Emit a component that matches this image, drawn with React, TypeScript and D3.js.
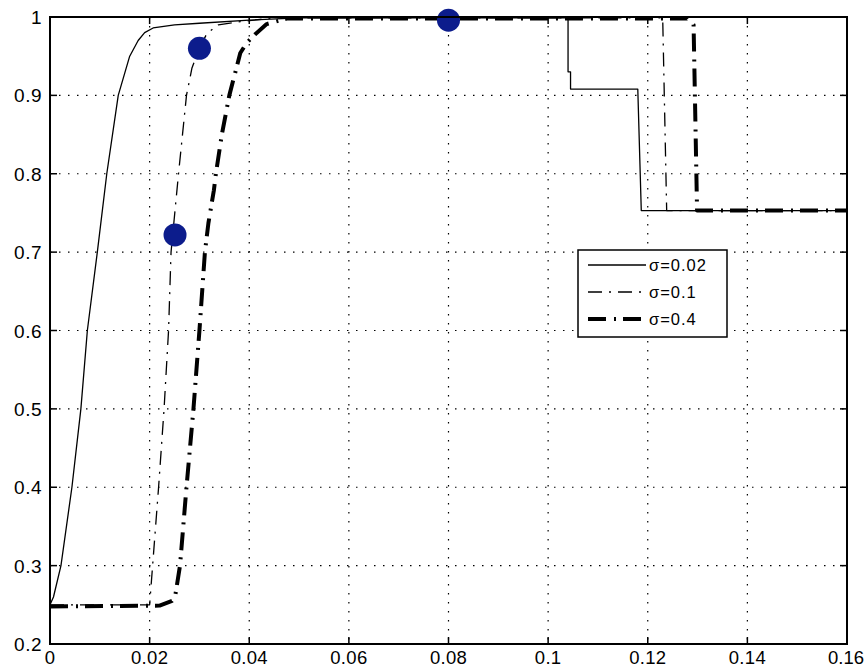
import React from "react";
import * as d3 from "d3";

const xTicks = [0, 0.02, 0.04, 0.06, 0.08, 0.1, 0.12, 0.14, 0.16];
const xTickLabels = ["0", "0.02", "0.04", "0.06", "0.08", "0.1", "0.12", "0.14", "0.16"];
const yTicks = [0.2, 0.3, 0.4, 0.5, 0.6, 0.7, 0.8, 0.9, 1];
const yTickLabels = ["0.2", "0.3", "0.4", "0.5", "0.6", "0.7", "0.8", "0.9", "1"];

const sigma002: [number, number][] = [
  [0, 0.25], [0.0007, 0.26], [0.0022, 0.3], [0.0044, 0.4], [0.0062, 0.5], [0.0075, 0.6],
  [0.0095, 0.7], [0.0114, 0.8], [0.0137, 0.9], [0.016, 0.95], [0.0177, 0.97], [0.019, 0.98],
  [0.0207, 0.986], [0.025, 0.99], [0.03, 0.992], [0.04, 0.996], [0.05, 0.999], [0.104, 0.999],
  [0.104, 0.93], [0.1045, 0.93], [0.1045, 0.908], [0.118, 0.908], [0.1187, 0.753], [0.16, 0.753],
];
const sigma01: [number, number][] = [
  [0, 0.25], [0.02, 0.25], [0.0206, 0.3], [0.0218, 0.4], [0.0229, 0.5], [0.0238, 0.6],
  [0.0243, 0.7], [0.0258, 0.8], [0.0274, 0.9], [0.0285, 0.935], [0.03, 0.96], [0.0315, 0.979],
  [0.0338, 0.99], [0.0382, 0.994], [0.045, 0.999], [0.123, 0.999], [0.1238, 0.753], [0.16, 0.753],
];
const sigma04: [number, number][] = [
  [0, 0.248], [0.022, 0.249], [0.0245, 0.255], [0.0251, 0.26], [0.0261, 0.3], [0.0274, 0.4],
  [0.0288, 0.5], [0.03, 0.6], [0.0311, 0.7], [0.0318, 0.737], [0.0329, 0.779], [0.0333, 0.8],
  [0.0345, 0.85], [0.036, 0.9], [0.0382, 0.954], [0.0395, 0.967], [0.0412, 0.978], [0.0435, 0.991],
  [0.0475, 0.998], [0.128, 0.998], [0.1292, 0.99], [0.1299, 0.753], [0.16, 0.753],
];
const markers: [number, number][] = [[0.0251, 0.722], [0.03, 0.96], [0.08, 0.996]];

const seriesNames = ["σ=0.02", "σ=0.1", "σ=0.4"];

const W = 866, H = 671;
const L = 50, R = 847, T = 17, B = 644;

export default function App() {
  const x = d3.scaleLinear().domain([0, 0.16]).range([L, R]);
  const y = d3.scaleLinear().domain([0.2, 1]).range([B, T]);
  const line = d3.line<[number, number]>().x(d => x(d[0])).y(d => y(d[1]));
  const font = "'Liberation Sans', Arial, sans-serif";
  const styles = [
    { stroke: "#000", width: 1.3, dash: undefined as string | undefined },
    { stroke: "#000", width: 1.3, dash: "14,7,2,7" },
    { stroke: "#000", width: 4, dash: "18,8,2,7" },
  ];
  const data = [sigma002, sigma01, sigma04];
  const tl = 7;
  const lg = { x: 578, y: 250, w: 149, h: 87 };
  const rows = [265, 292, 319];
  const last = xTicks.length - 1;
  return (
    <svg width={W} height={H} style={{ position: "absolute", left: 0, top: 0, background: "#fff" }}>
      <rect x={0} y={0} width={W} height={H} fill="#fff" />
      {xTicks.slice(1, -1).map((t, i) => (
        <line key={"gx" + i} x1={x(t)} x2={x(t)} y1={T} y2={B} stroke="#000" strokeWidth={1.2} strokeDasharray="1.5,7.5" />
      ))}
      {yTicks.slice(1, -1).map((t, i) => (
        <line key={"gy" + i} x1={L} x2={R} y1={y(t)} y2={y(t)} stroke="#000" strokeWidth={1.2} strokeDasharray="1.5,7.5" />
      ))}
      {xTicks.map((t, i) => (
        <g key={"tx" + i}>
          <line x1={x(t)} x2={x(t)} y1={B} y2={B - tl} stroke="#000" strokeWidth={1.5} />
          <line x1={x(t)} x2={x(t)} y1={T} y2={T + tl} stroke="#000" strokeWidth={1.5} />
          <text x={i === last ? 864 : x(t)} y={664} textAnchor={i === last ? "end" : "middle"} fontFamily={font} fontSize={18.5} letterSpacing={i === last ? 0 : 0.3}>{xTickLabels[i]}</text>
        </g>
      ))}
      {yTicks.map((t, i) => (
        <g key={"ty" + i}>
          <line x1={L} x2={L + tl} y1={y(t)} y2={y(t)} stroke="#000" strokeWidth={1.5} />
          <line x1={R} x2={R - tl} y1={y(t)} y2={y(t)} stroke="#000" strokeWidth={1.5} />
          <text x={42} y={y(t) + 7} textAnchor="end" fontFamily={font} fontSize={19} letterSpacing={0.5}>{yTickLabels[i]}</text>
        </g>
      ))}
      {data.map((d, i) => (
        <path key={"s" + i} d={line(d) || ""} fill="none" stroke={styles[i].stroke} strokeWidth={styles[i].width}
          strokeDasharray={styles[i].dash} strokeLinejoin="round" />
      ))}
      {markers.map((m, i) => (
        <circle key={"m" + i} cx={x(m[0])} cy={y(m[1])} r={11.5} fill="#0c1c8c" />
      ))}
      <rect x={L} y={T} width={R - L} height={B - T} fill="none" stroke="#000" strokeWidth={2} />
      <rect x={lg.x} y={lg.y} width={lg.w} height={lg.h} fill="#fff" stroke="#000" strokeWidth={1.5} />
      {seriesNames.map((n, i) => (
        <g key={"lg" + i}>
          <line x1={588} x2={646} y1={rows[i]} y2={rows[i]} stroke="#000" strokeWidth={styles[i].width}
            strokeDasharray={styles[i].dash} />
          <text x={649} y={rows[i] + 6} fontFamily={font} fontSize={16.5} letterSpacing={1}>{n}</text>
        </g>
      ))}
    </svg>
  );
}
